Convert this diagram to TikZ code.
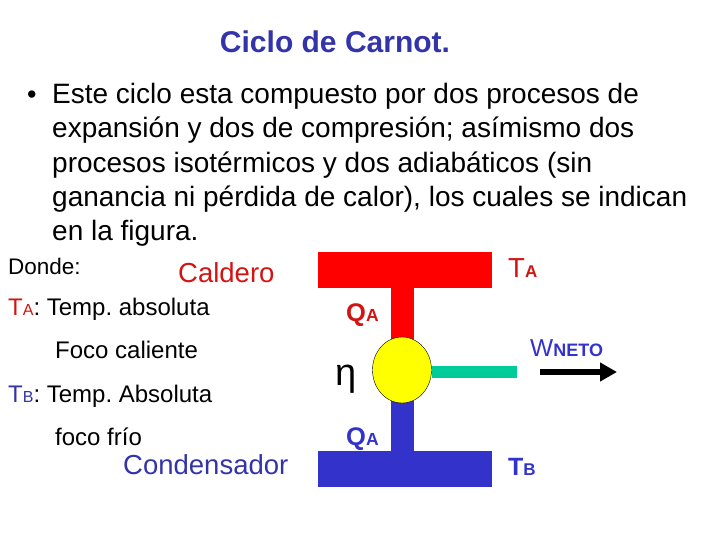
\documentclass[tikz,border=0pt]{standalone}
\usepackage{fontspec}
\setmainfont{Liberation Sans}
\usetikzlibrary{shapes.geometric,arrows.meta,backgrounds}
\definecolor{hotred}{RGB}{255,0,0}
\definecolor{txtred}{RGB}{210,20,20}
\definecolor{coldblue}{RGB}{51,51,204}
\definecolor{txtblue}{RGB}{51,51,170}
\definecolor{shaftgreen}{RGB}{0,204,153}
\definecolor{engyellow}{RGB}{255,255,0}
\newcommand{\fs}[1]{\fontsize{#1}{#1}\selectfont}
\frenchspacing
\begin{document}
\begin{tikzpicture}[x=1pt,y=-1pt,
  txt/.style={anchor=base west,inner sep=0pt,font=\fs{24}},
  reservoir/.style={minimum width=174pt,minimum height=36pt,inner sep=0pt},
  lbl/.style={anchor=base west,inner sep=0pt}]
  \useasboundingbox (0,0) rectangle (720,540);
  % Title and bullet text
  \node[inner sep=0pt,font=\fs{30}\bfseries,text=txtblue] (title) at (335,42) {Ciclo de Carnot.};
  \node[txt,font=\fs{27}] (bullet) at (27,104) {•};
  \node[anchor=north west,inner sep=0pt,align=left,font=\fontsize{28}{34.3}\selectfont] (para) at (52,83)
    {Este ciclo esta compuesto por dos procesos de\\
     expansión y dos de compresión; asímismo dos\\
     procesos isotérmicos y dos adiabáticos (sin\\
     ganancia ni pérdida de calor), los cuales se indican\\
     en la figura.};
  % Legend on the left
  \node[txt,font=\fs{22.5}] (donde) at (8,274) {Donde:};
  \node[txt,font=\fs{27.5},text=txtred] (caldero) at (178,282) {Caldero};
  \node[txt] (ta) at (8,315) {\textcolor{txtred}{T{\fs{16}A}}: Temp. absoluta};
  \node[txt] (foco1) at (55,358) {Foco caliente};
  \node[txt] (tb) at (8,402) {\textcolor{txtblue}{T{\fs{16}B}}: Temp. Absoluta};
  \node[txt] (foco2) at (55,445) {foco frío};
  \node[txt,font=\fs{27.5},text=txtblue] (condensador) at (123,474) {Condensador};
  % Engine between the two reservoirs
  \node[reservoir,fill=hotred] (hot) at (405,270) {};
  \node[reservoir,fill=coldblue] (cold) at (405,469) {};
  \node[draw,fill=engyellow,ellipse,minimum width=59pt,minimum height=66pt,inner sep=0pt] (eng) at (402,370) {};
  \begin{scope}[on background layer]
    \draw[hotred,line width=23pt] (eng.center |- hot.south) -- (eng.center);
    \draw[coldblue,line width=23pt] (eng.center |- cold.north) -- (eng.center);
  \end{scope}
  \coordinate (shaftend) at (517,372);
  \draw[shaftgreen,line width=12pt] (eng.east |- shaftend) -- (shaftend);
  \coordinate (wstart) at (540,372);
  \coordinate (wend) at (617,372);
  \draw[-{Triangle[length=17pt,width=18pt]},line width=6pt] (wstart) -- (wend);
  % Labels
  \node[lbl,text=txtred] (tal) at (508,277) {\fs{27.5}T{\fs{17}\bfseries A}};
  \node[lbl,text=txtred,font=\bfseries] (qa) at (346,321) {\fs{25.5}Q{\fs{17.5}A}};
  \node[lbl,font=\fs{38}] (eta) at (335,385) {η};
  \node[lbl,text=coldblue] (w) at (530,356) {\fs{24.5}W{\fs{18}\bfseries NETO}};
  \node[lbl,text=coldblue,font=\bfseries] (qb) at (346,445) {\fs{25.5}Q{\fs{17.5}A}};
  \node[lbl,text=coldblue,font=\bfseries] (tbl) at (508,475) {\fs{25}T{\fs{17}B}};
\end{tikzpicture}
\end{document}
